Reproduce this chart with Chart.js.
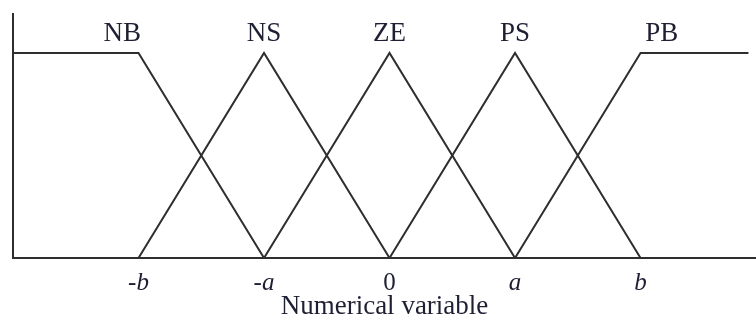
<!DOCTYPE html>
<html>
<head>
<meta charset="utf-8">
<script src="https://cdn.jsdelivr.net/npm/chart.js@4/dist/chart.umd.min.js"></script>
<style>
html,body{margin:0;padding:0;background:#fff;}
#wrap{width:756px;height:320px;}
</style>
</head>
<body>
<div id="wrap"><canvas id="c" width="756" height="320"></canvas></div>
<script>
// Membership functions (x in units, -2=-b, -1=-a, 0, 1=a, 2=b)
const setNames = ["NB", "NS", "ZE", "PS", "PB"];
const nbPts = [[-3, 1], [-2, 1], [-1, 0]];
const nsPts = [[-2, 0], [-1, 1], [0, 0]];
const zePts = [[-1, 0], [0, 1], [1, 0]];
const psPts = [[0, 0], [1, 1], [2, 0]];
const pbPts = [[1, 0], [2, 1], [2.86, 1]];
const labelX = [-2.13, -1, 0, 1, 2.17];
const labelY = 1.06;
const tickValues = [-2, -1, 0, 1, 2];
const tickLabels = ["-b", "-a", "0", "a", "b"];
const xTitle = "Numerical variable";

const lineColor = "#2e2e2e";
const textColor = "#1f1f33";
const serif = "'Liberation Serif', 'Times New Roman', serif";

const allSets = [nbPts, nsPts, zePts, psPts, pbPts];
const datasets = allSets.map((pts, i) => ({
  label: setNames[i],
  data: pts.map(p => ({x: p[0], y: p[1]})),
  showLine: true,
  borderColor: lineColor,
  borderWidth: 2,
  pointRadius: 0,
  fill: false,
  tension: 0
}));

const setLabelPlugin = {
  id: "setLabels",
  afterDatasetsDraw(chart) {
    const ctx = chart.ctx;
    const xs = chart.scales.x, ys = chart.scales.y;
    ctx.save();
    ctx.fillStyle = textColor;
    ctx.font = "27px " + serif;
    ctx.textAlign = "center";
    ctx.textBaseline = "alphabetic";
    setNames.forEach((n, i) => {
      ctx.fillText(n, xs.getPixelForValue(labelX[i]), ys.getPixelForValue(labelY));
    });
    ctx.restore();
  }
};

new Chart(document.getElementById("c"), {
  type: "scatter",
  data: {datasets},
  options: {
    responsive: false,
    animation: false,
    layout: {padding: {left: 13, top: 14, right: 0, bottom: 0}},
    plugins: {legend: {display: false}, tooltip: {enabled: false}},
    scales: {
      x: {
        type: "linear",
        min: -3,
        max: 2.92,
        afterBuildTicks(scale) {
          scale.ticks = tickValues.map(v => ({value: v}));
        },
        grid: {display: false, drawTicks: false},
        border: {display: true, color: lineColor, width: 2},
        ticks: {
          padding: 13,
          color: textColor,
          autoSkip: false,
          maxRotation: 0,
          font: (c) => ({family: serif, size: 25, lineHeight: 1, style: (c.tick && c.tick.value === 0) ? "normal" : "italic"}),
          callback: (v) => tickLabels[tickValues.indexOf(v)]
        },
        title: {
          display: true,
          text: xTitle,
          color: textColor,
          font: {family: serif, size: 27, lineHeight: 1},
          padding: {top: -16, bottom: 0}
        }
      },
      y: {
        min: 0,
        max: 1.19,
        grid: {display: false, drawTicks: false},
        border: {display: true, color: lineColor, width: 2},
        ticks: {display: false}
      }
    }
  },
  plugins: [setLabelPlugin]
});
</script>
</body>
</html>
